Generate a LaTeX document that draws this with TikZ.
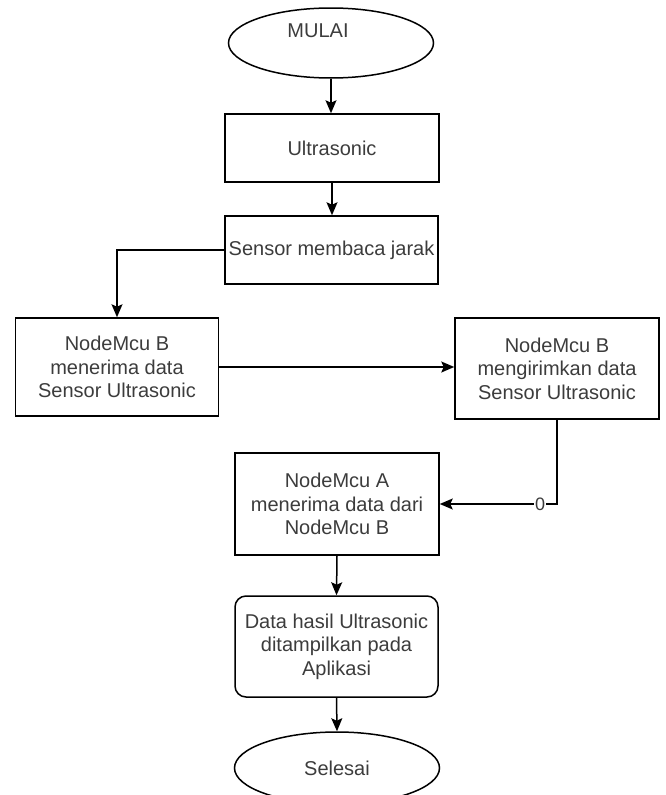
\documentclass[tikz,border=0pt]{standalone}
\usepackage{fontspec}
\setmainfont{Liberation Sans}
\usetikzlibrary{shapes.geometric,arrows.meta}
\definecolor{txtgray}{RGB}{60,60,60}
\begin{document}
\begin{tikzpicture}[x=1pt,y=-1pt,
  base/.style={draw=black,line width=1.5pt,inner sep=0pt,align=center,
    text=txtgray,font=\fontsize{20}{23.5}\selectfont},
  box/.style={base,rectangle},
  rbox/.style={base,rectangle,rounded corners=11pt},
  ellbox/.style={base,ellipse,minimum width=205pt,minimum height=70pt},
  txt/.style={inner sep=0pt,text=txtgray,font=\fontsize{20}{23.5}\selectfont},
  arr/.style={line width=1.5pt,-{Stealth[length=13pt,width=11pt,inset=2.5pt]}},
  lbl/.style={fill=white,inner sep=1pt,text=txtgray,font=\fontsize{18}{20}\selectfont}
]
\useasboundingbox (0,0) rectangle (666,795);
\begin{scope}
\clip (0,0) rectangle (666,795);
\node[ellbox] (mulai) at (331,43) {};
\node[txt] (mulaitxt) at (318,31) {MULAI};
\node[box,minimum width=214pt,minimum height=68pt] (ultra) at (332,148) {Ultrasonic};
\node[box,minimum width=213pt,minimum height=68pt] (sensor) at (331.5,250) {Sensor membaca jarak};
\node[box,minimum width=203pt,minimum height=98pt] (nbterima) at (117,367) {NodeMcu B\\menerima data\\Sensor Ultrasonic};
\node[box,minimum width=204pt,minimum height=101pt] (nbkirim) at (557,368.5) {NodeMcu B\\mengirimkan data\\Sensor Ultrasonic};
\node[box,minimum width=204pt,minimum height=102pt] (natrima) at (337,504) {NodeMcu A\\menerima data dari\\NodeMcu B};
\node[rbox,minimum width=203pt,minimum height=101pt] (data) at (336.5,646.5) {Data hasil Ultrasonic\\ditampilkan pada\\Aplikasi};
\node[ellbox,minimum height=72pt] (selesai) at (337,768) {Selesai};

\draw[arr] (mulai.south) -- (mulai.south |- ultra.north);
\draw[arr] (ultra.south) -- (ultra.south |- sensor.north);
\draw[arr] (sensor.west) -| (nbterima.north);
\draw[arr] (nbterima.east) -- (nbterima.east -| nbkirim.west);
\draw[arr] (nbkirim.south) |- node[lbl,pos=0.572] {0} (natrima.east);
\draw[arr] (natrima.south) -- (data.north);
\draw[arr] (data.south) -- (selesai.north);
\end{scope}
\end{tikzpicture}
\end{document}
